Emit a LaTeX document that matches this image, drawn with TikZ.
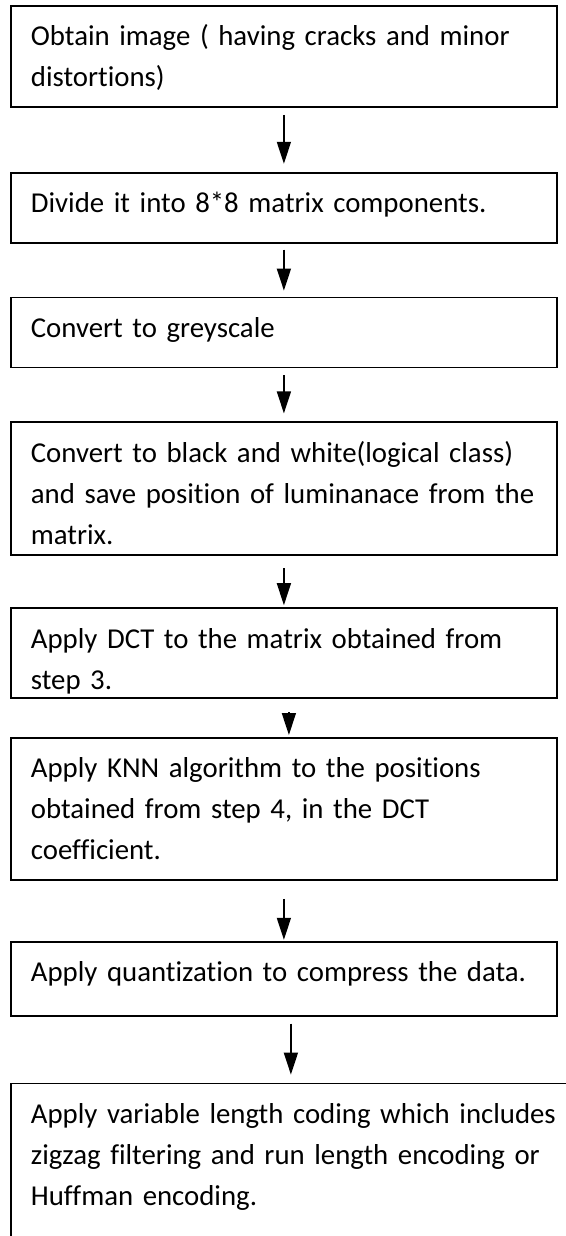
\documentclass[tikz,border=0pt]{standalone}
\usepackage{fontspec}
\setmainfont{Carlito}[Ligatures=NoCommon]
\usetikzlibrary{positioning, arrows.meta}
\tikzset{stepbox/.style={draw, line width=0.9pt, anchor=north west,
                         text width=253pt, align=left, inner xsep=10pt,
                         inner ysep=0pt, text height=20pt,
                         font=\fontsize{14.4pt}{20.5pt}\selectfont},
         flow/.style={-{Triangle[width=7pt,length=11pt]}, line width=0.75pt},
         }
\begin{document}
\begin{tikzpicture}[x=0.5pt, y=-0.5pt]
    \useasboundingbox (0,0) rectangle (566,1236);
    \node[stepbox, text depth=30.5pt] (b1) at (10,5) {\mbox{Obtain image ( having cracks and minor}\\distortions)};
    \node[stepbox, text depth=15pt, below=32pt of b1.south west, anchor=north west] (b2) {Divide it into 8*8 matrix components.};
    \node[stepbox, text depth=15pt, below=26.5pt of b2.south west, anchor=north west] (b3) {Convert to greyscale};
    \node[stepbox, text depth=46.5pt, below=26.5pt of b3.south west, anchor=north west] (b4) {\mbox{Convert to black and white(logical class)}\\\mbox{and save position of luminanace from the}\\matrix.};
    \node[stepbox, text depth=25pt, below=25.5pt of b4.south west, anchor=north west] (b5) {\mbox{Apply DCT to the matrix obtained from}\\step 3.};
    \node[stepbox, text depth=51pt, below=19pt of b5.south west, anchor=north west] (b6) {\mbox{Apply KNN algorithm to the positions}\\\mbox{obtained from step 4, in the DCT}\\coefficient.};
    \node[stepbox, text depth=17pt, below=30pt of b6.south west, anchor=north west] (b7) {\mbox{Apply quantization to compress the data.}};
    \node[stepbox, text depth=80pt, text width=285pt, below=33pt of b7.south west, anchor=north west] (b8) {\mbox{Apply variable length coding which includes}\\\mbox{zigzag filtering and run length encoding or}\\Huffman encoding.};

    \draw[flow, shorten <=3.5pt, shorten >=4pt] (b1.south) -- (b2.north);
    \draw[flow, shorten <=3pt, shorten >=3pt] (b2.south) -- (b3.north);
    \draw[flow, shorten <=3.5pt, shorten >=4pt] (b3.south) -- (b4.north);
    \draw[flow, shorten <=6pt, shorten >=1pt] (b4.south) -- (b5.north);
    \draw[flow, shorten <=6.5pt, shorten >=1pt] ([xshift=2.5pt]b5.south) -- ([xshift=2.5pt]b5.south |- b6.north);
    \draw[flow, shorten <=9pt, shorten >=0.5pt] (b6.south) -- (b7.north);
    \draw[flow, shorten <=3.5pt, shorten >=4pt] ([xshift=3.5pt]b7.south) -- ([xshift=3.5pt]b7.south |- b8.north);
\end{tikzpicture}
\end{document}
